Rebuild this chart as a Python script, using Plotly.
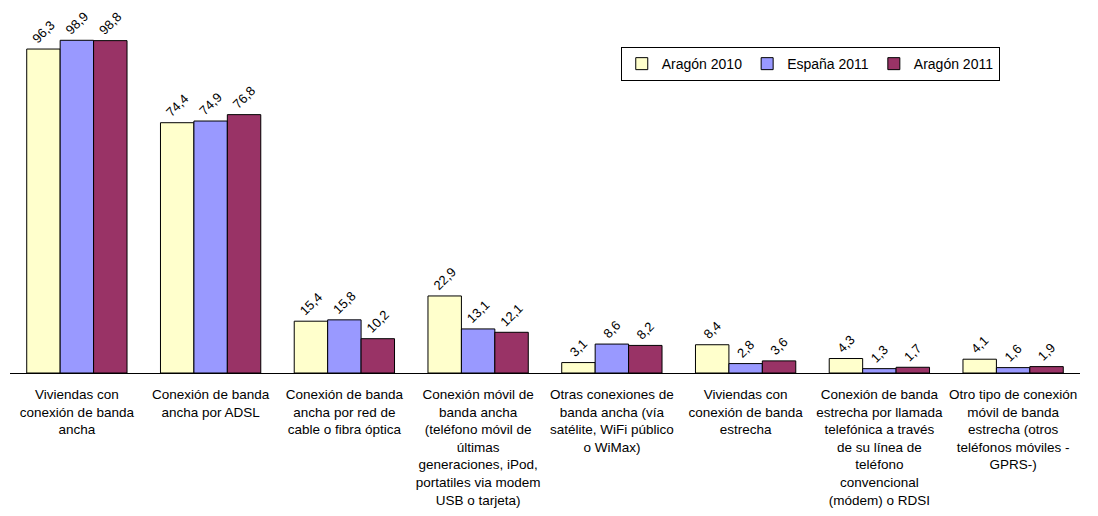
import plotly.graph_objects as go

categories = [
    "Viviendas con<br>conexión de banda<br>ancha",
    "Conexión de banda<br>ancha por ADSL",
    "Conexión de banda<br>ancha por red de<br>cable o fibra óptica",
    "Conexión móvil de<br>banda ancha<br>(teléfono móvil de<br>últimas<br>generaciones, iPod,<br>portatiles via modem<br>USB o tarjeta)",
    "Otras conexiones de<br>banda ancha (vía<br>satélite, WiFi público<br>o WiMax)",
    "Viviendas con<br>conexión de banda<br>estrecha",
    "Conexión de banda<br>estrecha por llamada<br>telefónica a través<br>de su línea de<br>teléfono<br>convencional<br>(módem) o RDSI",
    "Otro tipo de conexión<br>móvil de banda<br>estrecha (otros<br>teléfonos móviles -<br>GPRS-)",
]
aragon_2010 = [96.3, 74.4, 15.4, 22.9, 3.1, 8.4, 4.3, 4.1]
espana_2011 = [98.9, 74.9, 15.8, 13.1, 8.6, 2.8, 1.3, 1.6]
aragon_2011 = [98.8, 76.8, 10.2, 12.1, 8.2, 3.6, 1.7, 1.9]

series = [
    ("Aragón 2010", aragon_2010, "#FFFFCC"),
    ("España 2011", espana_2011, "#9999FF"),
    ("Aragón 2011", aragon_2011, "#993366"),
]

FONT = "Liberation Sans, Arial, sans-serif"

fig = go.Figure()
for name, vals, color in series:
    fig.add_trace(go.Bar(
        x=categories, y=vals, name=name,
        marker=dict(color=color, line=dict(color="black", width=1)),
        text=[f"{v:.1f}".replace(".", ",") for v in vals],
        textposition="outside", textangle=-45,
        textfont=dict(family=FONT, size=13, color="black"),
        cliponaxis=False,
    ))

fig.update_layout(
    width=1090, height=508,
    margin=dict(l=2, r=18, t=0, b=143, autoexpand=False),
    paper_bgcolor="white", plot_bgcolor="white",
    barmode="group", bargap=0.25, bargroupgap=0,
    font=dict(family=FONT, size=13, color="black"),
    showlegend=True,
    legend=dict(
        orientation="h", x=0.925, xanchor="right", y=0.893, yanchor="top",
        bordercolor="black", borderwidth=1, bgcolor="white",
        font=dict(family=FONT, size=14), itemwidth=30, tracegroupgap=0,
    ),
    xaxis=dict(showline=True, linecolor="black", linewidth=1, ticks="",
               tickangle=0, tickfont=dict(family=FONT, size=13.5),
               automargin=False, ticklabelstandoff=9),
    yaxis=dict(range=[0, 108.5], visible=False, automargin=False),
    uniformtext=dict(mode=False),
)

fig.write_html("out.html")
